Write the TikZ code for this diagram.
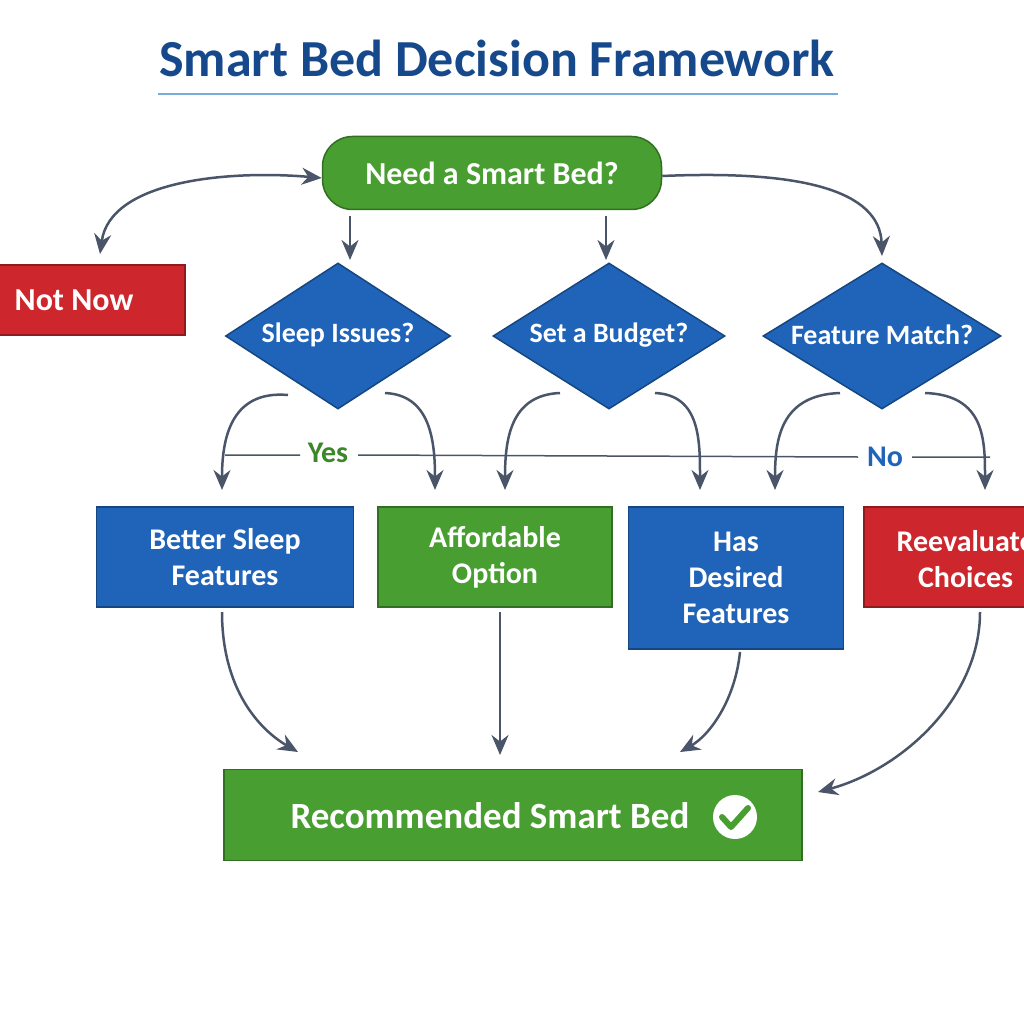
\documentclass[tikz,border=0pt]{standalone}
\usepackage{fontspec}
\setmainfont{Carlito}
\usetikzlibrary{shapes.geometric,arrows.meta}
\definecolor{tblue}{RGB}{22,72,140}
\definecolor{bblue}{RGB}{32,100,185}
\definecolor{bgreen}{RGB}{72,158,48}
\definecolor{bred}{RGB}{205,38,44}
\definecolor{agray}{RGB}{75,85,105}
\definecolor{lblue}{RGB}{120,170,220}
\begin{document}
\begin{tikzpicture}[x=1pt,y=-1pt,
  box/.style={draw=#1!70!black,fill=#1,text=white,font=\bfseries\fontsize{30}{36}\selectfont,align=center,inner sep=0pt,line width=1.5pt},
  dshape/.style={diamond,draw=bblue!70!black,fill=bblue,line width=1.5pt,inner sep=0pt,minimum height=146pt},
  dtext/.style={text=white,font=\bfseries\fontsize{28}{32}\selectfont},
  arr/.style={draw=agray,line width=2.5pt,-{Stealth[length=20pt,width=17pt]}}]
\useasboundingbox (0,0) rectangle (1024,1024);
\fill[white] (0,0) rectangle (1024,1024);
\clip (0,0) rectangle (1024,1024);
\node[font=\bfseries\fontsize{52}{58}\selectfont,text=tblue] (title) at (497,58) {Smart Bed Decision Framework};
\draw[lblue,line width=2pt] (158,94) -- (838,94);
\node[box=bgreen,font=\bfseries\fontsize{32}{38}\selectfont,rounded corners=30pt,minimum width=339pt,minimum height=73pt] (need) at (492,173) {Need a Smart Bed?};
\node[box=bred,minimum width=250pt,minimum height=70pt] (notnow) at (60,300) {};
\node[font=\bfseries\fontsize{32}{38}\selectfont,text=white] (nnt) at (74,300) {Not Now};
\node[dshape,minimum width=225pt] (d1) at (338,336) {};
\node[dshape,minimum width=232pt] (d2) at (609,336) {};
\node[dshape,minimum width=238pt] (d3) at (882,336) {};
\node[dtext] (d1t) at (338,335) {Sleep Issues?};
\node[dtext] (d2t) at (609,335) {Set a Budget?};
\node[dtext] (d3t) at (882,335) {Feature Match?};
\node[box=bblue,minimum width=257pt,minimum height=100pt] (b1) at (225,557) {Better Sleep\\Features};
\node[box=bgreen,minimum width=234pt,minimum height=100pt] (b2) at (495,557) {Affordable\\Option};
\node[box=bblue,minimum width=215pt,minimum height=142pt] (b3) at (736,578) {Has\\Desired\\Features};
\node[box=bred,minimum width=170pt,minimum height=100pt] (b4) at (949,557) {};
\node[text=white,font=\bfseries\fontsize{30}{36}\selectfont,align=center,anchor=west] (b4t) at (893,559) {Reevaluate\\Choices};
\node[box=bgreen,minimum width=578pt,minimum height=91pt] (rec) at (513,815) {};
\node[text=white,font=\bfseries\fontsize{37}{42}\selectfont] (rect) at (490,816) {Recommended Smart Bed};
\node[circle,fill=white,minimum size=44pt,inner sep=0pt] (chk) at (735,817) {};
\draw[bgreen,line width=6pt,line cap=round,line join=round] (722,817) -- (731,827) -- (748,808);
\coordinate (l1) at (225,455); \coordinate (l2) at (990,457);
\draw[agray,line width=1.5pt] (l1) -- (300,455) (358,455) -- (858,457) (912,457) -- (l2);
\node[text=bgreen!85!black,font=\bfseries\fontsize{30}{34}\selectfont] (yes) at (328,453) {Yes};
\node[text=bblue,font=\bfseries\fontsize{30}{34}\selectfont] (no) at (885,457) {No};
\draw[agray,line width=2.5pt,{Stealth[length=20pt,width=17pt]}-{Stealth[length=20pt,width=17pt]}] (100,254) .. controls (110,180) and (230,170) .. (need.west|-0,178);
\draw[arr] (need.east|-0,176) .. controls (800,170) and (880,190) .. (882,256);
\draw[arr] (350,216) -- (350,260);
\draw[arr] (606,216) -- (606,260);
\draw[arr] (288,395) .. controls (230,390) and (222,440) .. (222,490);
\draw[arr] (385,393) .. controls (430,395) and (435,440) .. (435,490);
\draw[arr] (560,393) .. controls (510,395) and (505,440) .. (505,490);
\draw[arr] (655,393) .. controls (700,395) and (700,440) .. (700,490);
\draw[arr] (840,393) .. controls (780,395) and (775,440) .. (775,490);
\draw[arr] (925,393) .. controls (985,395) and (985,440) .. (985,490);
\draw[arr] (222,612) .. controls (222,690) and (260,730) .. (298,752);
\draw[arr] (500,612) -- (500,755);
\draw[arr] (740,652) .. controls (735,700) and (710,735) .. (680,752);
\draw[arr] (980,612) .. controls (980,700) and (900,770) .. (818,792);
\end{tikzpicture}
\end{document}
